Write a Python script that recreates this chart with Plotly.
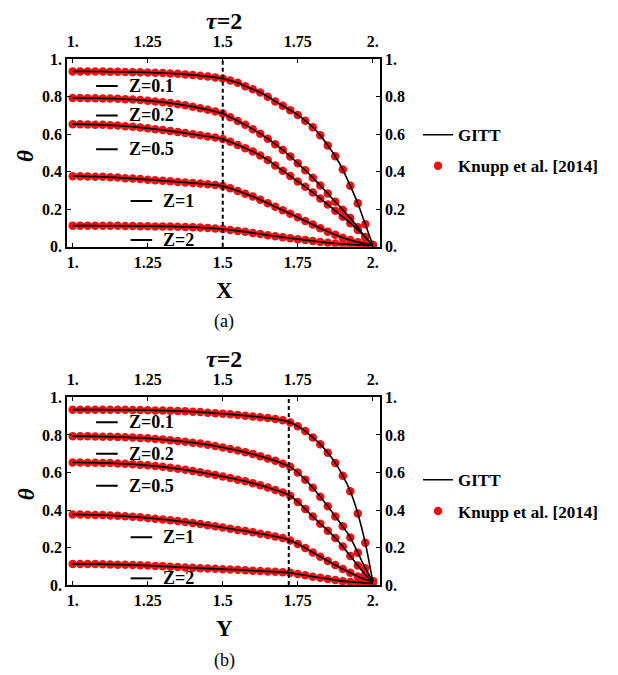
import plotly.graph_objects as go

# ---------------- data ----------------
GRID = [1.000, 1.025, 1.050, 1.075, 1.100, 1.125, 1.150, 1.175, 1.200, 1.225,
        1.250, 1.275, 1.300, 1.325, 1.350, 1.375, 1.400, 1.425, 1.450, 1.475,
        1.500, 1.525, 1.550, 1.575, 1.600, 1.625, 1.650, 1.675, 1.700, 1.725,
        1.750, 1.775, 1.800, 1.825, 1.850, 1.875, 1.900, 1.925, 1.950, 1.975, 2.000]

Z_LABELS = ["Z=0.1", "Z=0.2", "Z=0.5", "Z=1", "Z=2"]

# panel (a): theta vs X
A_Z01 = [0.935, 0.935, 0.935, 0.934, 0.934, 0.933, 0.933, 0.932, 0.931, 0.930,
         0.929, 0.928, 0.926, 0.924, 0.922, 0.919, 0.916, 0.912, 0.908, 0.903,
         0.897, 0.886, 0.874, 0.856, 0.840, 0.822, 0.800, 0.775, 0.752, 0.728,
         0.703, 0.672, 0.637, 0.594, 0.540, 0.483, 0.412, 0.325, 0.232, 0.120, 0.010]
A_Z02 = [0.793, 0.793, 0.792, 0.792, 0.791, 0.790, 0.789, 0.787, 0.785, 0.782,
         0.779, 0.775, 0.771, 0.766, 0.760, 0.754, 0.747, 0.739, 0.731, 0.721,
         0.710, 0.691, 0.671, 0.650, 0.627, 0.603, 0.576, 0.547, 0.516, 0.482,
         0.445, 0.408, 0.368, 0.327, 0.284, 0.240, 0.197, 0.153, 0.104, 0.052, 0.010]
A_Z05 = [0.653, 0.653, 0.652, 0.651, 0.650, 0.648, 0.646, 0.643, 0.640, 0.636,
         0.632, 0.627, 0.622, 0.617, 0.612, 0.606, 0.600, 0.594, 0.588, 0.582,
         0.575, 0.560, 0.543, 0.526, 0.508, 0.487, 0.463, 0.434, 0.405, 0.377,
         0.348, 0.320, 0.290, 0.258, 0.225, 0.192, 0.160, 0.126, 0.090, 0.050, 0.010]
A_Z1 = [0.376, 0.376, 0.375, 0.374, 0.373, 0.371, 0.369, 0.366, 0.364, 0.361,
        0.358, 0.355, 0.352, 0.349, 0.346, 0.343, 0.340, 0.337, 0.333, 0.329,
        0.324, 0.312, 0.298, 0.283, 0.268, 0.251, 0.232, 0.213, 0.195, 0.176,
        0.157, 0.138, 0.119, 0.099, 0.081, 0.064, 0.049, 0.036, 0.025, 0.016, 0.010]
A_Z2 = [0.113, 0.113, 0.113, 0.113, 0.112, 0.112, 0.112, 0.111, 0.111, 0.110,
        0.110, 0.109, 0.109, 0.108, 0.107, 0.106, 0.105, 0.103, 0.101, 0.098,
        0.095, 0.090, 0.085, 0.080, 0.074, 0.068, 0.062, 0.056, 0.051, 0.046,
        0.041, 0.036, 0.031, 0.026, 0.022, 0.018, 0.015, 0.012, 0.010, 0.009, 0.008]

# panel (b): theta vs Y
B_Z01 = [0.935, 0.935, 0.935, 0.935, 0.935, 0.934, 0.934, 0.934, 0.933, 0.933,
         0.932, 0.931, 0.930, 0.929, 0.928, 0.926, 0.924, 0.922, 0.919, 0.916,
         0.913, 0.910, 0.907, 0.903, 0.899, 0.895, 0.890, 0.885, 0.878, 0.866,
         0.846, 0.821, 0.787, 0.751, 0.705, 0.651, 0.583, 0.500, 0.382, 0.225, 0.020]
B_Z02 = [0.793, 0.793, 0.793, 0.792, 0.791, 0.790, 0.789, 0.788, 0.786, 0.784,
         0.782, 0.779, 0.776, 0.772, 0.768, 0.764, 0.759, 0.754, 0.748, 0.741,
         0.733, 0.725, 0.717, 0.708, 0.698, 0.687, 0.675, 0.662, 0.647, 0.630,
         0.600, 0.562, 0.519, 0.471, 0.420, 0.366, 0.313, 0.254, 0.173, 0.090, 0.020]
B_Z05 = [0.653, 0.653, 0.652, 0.652, 0.651, 0.650, 0.648, 0.646, 0.644, 0.641,
         0.638, 0.634, 0.630, 0.625, 0.620, 0.614, 0.608, 0.601, 0.594, 0.587,
         0.579, 0.571, 0.562, 0.553, 0.543, 0.532, 0.520, 0.507, 0.494, 0.476,
         0.443, 0.405, 0.365, 0.327, 0.290, 0.251, 0.205, 0.155, 0.105, 0.055, 0.020]
B_Z1 = [0.376, 0.376, 0.375, 0.374, 0.373, 0.371, 0.369, 0.367, 0.364, 0.361,
        0.358, 0.354, 0.350, 0.346, 0.341, 0.336, 0.331, 0.325, 0.319, 0.313,
        0.307, 0.300, 0.294, 0.288, 0.281, 0.274, 0.267, 0.259, 0.251, 0.238,
        0.219, 0.198, 0.174, 0.151, 0.128, 0.107, 0.086, 0.066, 0.046, 0.030, 0.020]
B_Z2 = [0.113, 0.113, 0.112, 0.112, 0.111, 0.110, 0.109, 0.108, 0.107, 0.106,
        0.104, 0.102, 0.100, 0.098, 0.096, 0.094, 0.092, 0.090, 0.088, 0.087,
        0.085, 0.083, 0.082, 0.079, 0.077, 0.075, 0.073, 0.071, 0.069, 0.066,
        0.059, 0.052, 0.045, 0.039, 0.033, 0.027, 0.021, 0.017, 0.014, 0.012, 0.010]

A_SERIES = [A_Z01, A_Z02, A_Z05, A_Z1, A_Z2]
B_SERIES = [B_Z01, B_Z02, B_Z05, B_Z1, B_Z2]

KINK_A = 1.5     # dashed line, panel (a)
KINK_B = 1.72    # dashed line, panel (b)

X_TICKS = [1.0, 1.25, 1.5, 1.75, 2.0]
X_TICKTEXT = ["1.", "1.25", "1.5", "1.75", "2."]
Y_TICKS = [0.0, 0.2, 0.4, 0.6, 0.8, 1.0]
Y_TICKTEXT = ["0.", "0.2", "0.4", "0.6", "0.8", "1."]

# label key positions (x of key-line centre in data units, theta)
A_LABEL_POS = [(1.114, 0.857), (1.114, 0.70), (1.114, 0.52), (1.229, 0.244), (1.229, 0.036)]
B_LABEL_POS = [(1.114, 0.868), (1.114, 0.70), (1.114, 0.53), (1.229, 0.255), (1.229, 0.036)]

# ---------------- style ----------------
W, H = 618, 675
FONT = "Liberation Serif, Times New Roman, DejaVu Serif, serif"
RED = "rgb(240,18,18)"
PX_L, PX_R = 67, 380
A_TOP, A_BOT = 52.5, 245.0
B_TOP, B_BOT = 399.5, 592.0
XR = [0.981, 2.024]


def px(x):
    return x / W


def py(y):
    return 1 - y / H


fig = go.Figure()

panels = [
    ("x", "y", "x3", "y3", A_SERIES, "legend", A_TOP, A_BOT, KINK_A, "X", "(a)", A_LABEL_POS),
    ("x2", "y2", "x4", "y4", B_SERIES, "legend2", B_TOP, B_BOT, KINK_B, "Y", "(b)", B_LABEL_POS),
]

for (xa, ya, xt, yr, series, leg, top, bot, kink, xlabel, cap, labpos) in panels:
    for i, s in enumerate(series):
        fig.add_trace(go.Scatter(
            x=GRID, y=s, xaxis=xa, yaxis=ya, mode="markers",
            marker=dict(color=RED, size=8.5),
            name="Knupp et al. [2014]", legend=leg, legendgroup=leg + "k",
            showlegend=(i == 0), legendrank=2))
    for i, s in enumerate(series):
        fig.add_trace(go.Scatter(
            x=GRID, y=s, xaxis=xa, yaxis=ya, mode="lines",
            line=dict(color="black", width=1.6, shape="spline", smoothing=0.5),
            name="GITT", legend=leg, legendgroup=leg + "g",
            showlegend=(i == 0), legendrank=1))
    # invisible trace for mirrored axes
    fig.add_trace(go.Scatter(x=[GRID[0]], y=[0.5], xaxis=xt, yaxis=yr, mode="markers",
                             marker=dict(opacity=0), showlegend=False, hoverinfo="skip"))
    # dashed vertical line
    fig.add_shape(type="line", xref=xa, yref=ya + " domain", x0=kink, x1=kink, y0=0, y1=1,
                  line=dict(color="black", width=2, dash="4px,3px"))
    # Z labels: short key line + text
    for (lx, ly), lab in zip(labpos, Z_LABELS):
        fig.add_shape(type="line", xref=xa, yref=ya, x0=lx - 0.036, x1=lx + 0.036,
                      y0=ly, y1=ly, line=dict(color="black", width=2))
        fig.add_annotation(xref=xa, yref=ya, x=lx + 0.066, y=ly, text="<b>" + lab + "</b>",
                           showarrow=False, xanchor="left", yanchor="middle",
                           font=dict(family=FONT, size=18, color="black"))
    cx = px((PX_L + PX_R) / 2 + 0.5)
    fig.add_annotation(xref="paper", yref="paper", x=cx, y=py(top - 39),
                       text="<b><i>τ</i>=2</b>", showarrow=False, xanchor="center",
                       yanchor="middle", font=dict(family=FONT, size=24, color="black"))
    fig.add_annotation(xref="paper", yref="paper", x=cx, y=py(bot + 45),
                       text="<b>" + xlabel + "</b>", showarrow=False, xanchor="center",
                       yanchor="middle", font=dict(family=FONT, size=23, color="black"))
    fig.add_annotation(xref="paper", yref="paper", x=px(26), y=py((top + bot) / 2 + 3),
                       text="<b><i>θ</i></b>", showarrow=False, xanchor="center",
                       yanchor="middle", textangle=-90,
                       font=dict(family=FONT, size=23, color="black"))
    fig.add_annotation(xref="paper", yref="paper", x=cx, y=py(bot + 77),
                       text=cap, showarrow=False, xanchor="center",
                       yanchor="middle", font=dict(family=FONT, size=18, color="black"))

tickfont = dict(family=FONT, size=16, color="black", weight="bold")
common_x = dict(range=XR, tickvals=X_TICKS, ticktext=X_TICKTEXT, ticks="inside", ticklen=4,
                tickwidth=1, tickcolor="black", showline=True, linecolor="black",
                linewidth=1.5, showgrid=False, zeroline=False, tickfont=tickfont,
                domain=[px(PX_L), px(PX_R)])
common_y = dict(range=[0, 1], tickvals=Y_TICKS, ticktext=Y_TICKTEXT, ticks="inside", ticklen=4,
                tickwidth=1, tickcolor="black", showline=True, linecolor="black",
                linewidth=1.5, showgrid=False, zeroline=False, tickfont=tickfont)

legend_common = dict(font=dict(family=FONT, size=17, color="black", weight="bold"),
                     bgcolor="rgba(0,0,0,0)", tracegroupgap=6, traceorder="grouped",
                     xanchor="left", yanchor="top", itemwidth=30)

fig.update_layout(
    width=W, height=H, autosize=False,
    margin=dict(l=0, r=0, t=0, b=0),
    paper_bgcolor="white", plot_bgcolor="white",
    xaxis=dict(common_x, anchor="y", side="bottom"),
    yaxis=dict(common_y, anchor="x", side="left", domain=[py(A_BOT), py(A_TOP)]),
    xaxis3=dict(common_x, anchor="y", overlaying="x", side="top", ticklabelstandoff=4),
    yaxis3=dict(common_y, anchor="x", overlaying="y", side="right"),
    xaxis2=dict(common_x, anchor="y2", side="bottom"),
    yaxis2=dict(common_y, anchor="x2", side="left", domain=[py(B_BOT), py(B_TOP)]),
    xaxis4=dict(common_x, anchor="y2", overlaying="x2", side="top", ticklabelstandoff=4),
    yaxis4=dict(common_y, anchor="x2", overlaying="y2", side="right"),
    legend=dict(legend_common, x=px(418), y=py(112)),
    legend2=dict(legend_common, x=px(418), y=py(466)),
    showlegend=True,
)

fig.write_html("out.html")
